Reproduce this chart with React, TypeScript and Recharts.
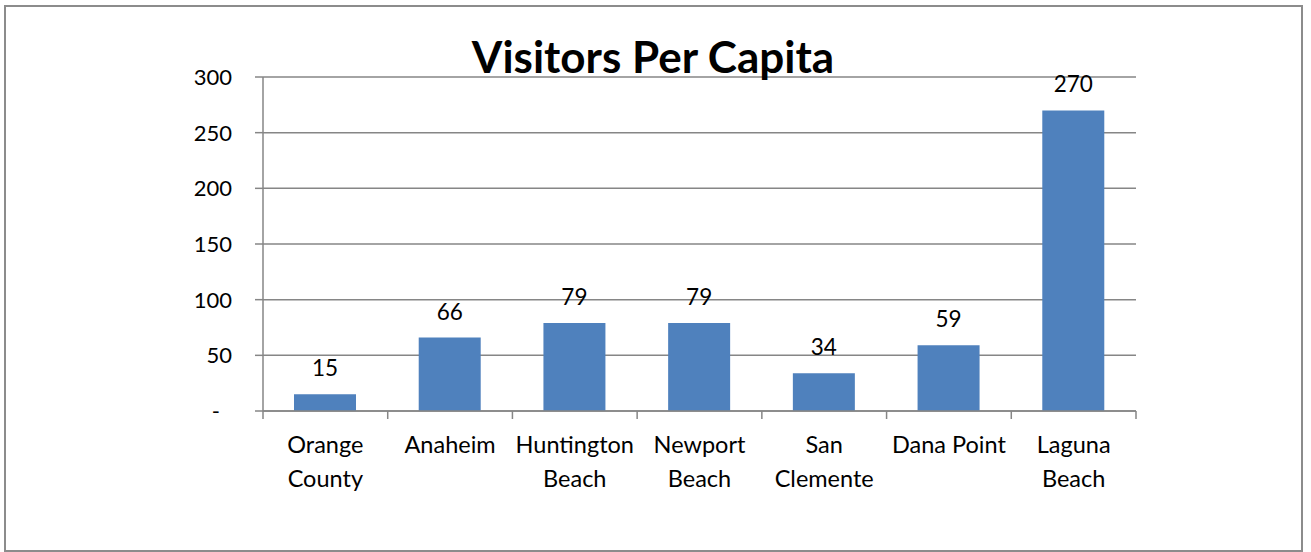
import { BarChart, Bar, XAxis, YAxis, CartesianGrid, LabelList } from "recharts";

const cities = [
  "Orange County",
  "Anaheim",
  "Huntington Beach",
  "Newport Beach",
  "San Clemente",
  "Dana Point",
  "Laguna Beach",
];
// how Excel wrapped each category label
const cityLines = [
  ["Orange", "County"],
  ["Anaheim"],
  ["Huntington", "Beach"],
  ["Newport", "Beach"],
  ["San", "Clemente"],
  ["Dana Point"],
  ["Laguna", "Beach"],
];
const visitorsPerCapita = [15, 66, 79, 79, 34, 59, 270];
const yTicks = [0, 50, 100, 150, 200, 250, 300];

const FONT = "Lato, 'Open Sans', sans-serif";
const GRID = "#868686";

const data = cities.map((c, i) => ({ city: c, visitors: visitorsPerCapita[i] }));

function CityTick(props: any) {
  const { x, payload, index } = props;
  const half = payload?.offset || 62.35;
  const lines = cityLines[index] || [payload.value];
  const axisY = 411;
  return (
    <g>
      <line x1={x - half} x2={x - half} y1={axisY} y2={axisY + 8} stroke={GRID} strokeWidth={1.5} />
      {index === cities.length - 1 && (
        <line x1={x + half} x2={x + half} y1={axisY} y2={axisY + 8} stroke={GRID} strokeWidth={1.5} />
      )}
      {lines.map((l: string, i: number) => (
        <text key={i} x={x} y={axisY + 42 + i * 34} textAnchor="middle" fontSize={23.5} fontFamily={FONT} fill="#000">
          {l}
        </text>
      ))}
    </g>
  );
}

function ValueTick(props: any) {
  const { y, payload } = props;
  const label = payload.value === 0 ? "-" : String(payload.value);
  const right = payload.value === 0 ? 220 : 232;
  return (
    <text x={right} y={y + 8} textAnchor="end" fontSize={22} fontFamily={FONT} fill="#000">
      {label}
    </text>
  );
}

export default function App() {
  return (
    <div style={{ position: "absolute", left: 0, top: 0, width: 1311, height: 552, background: "#fff" }}>
      <div
        style={{
          position: "absolute",
          left: 4,
          top: 5,
          width: 1295,
          height: 543,
          border: "2px solid #8c8c8c",
        }}
      />
      <div style={{ position: "absolute", left: 0, top: 0 }}>
        <BarChart
          width={1311}
          height={552}
          data={data}
          margin={{ top: 77, right: 175, left: 0, bottom: 0 }}
        >
          <CartesianGrid vertical={false} stroke={GRID} strokeWidth={1.5} />
          <XAxis
            dataKey="city"
            type="category"
            height={141}
            interval={0}
            tick={CityTick}
            tickLine={false}
            axisLine={{ stroke: GRID, strokeWidth: 1.5 }}
          />
          <YAxis
            type="number"
            width={263}
            domain={[0, 300]}
            ticks={yTicks}
            tick={ValueTick}
            tickSize={8}
            tickLine={{ stroke: GRID, strokeWidth: 1.5 }}
            axisLine={{ stroke: GRID, strokeWidth: 1.5 }}
          />
          <Bar dataKey="visitors" fill="#4f81bd" barSize={62} isAnimationActive={false}>
            <LabelList dataKey="visitors" position="top" offset={18} fontSize={22.5} fontFamily={FONT} fill="#000" />
          </Bar>
        </BarChart>
      </div>
      <svg width={1311} height={552} style={{ position: "absolute", left: 0, top: 0, pointerEvents: "none" }}>
        <text x={653} y={73} textAnchor="middle" fontFamily={FONT} fontWeight={700} fontSize={44} fill="#000">
          Visitors Per Capita
        </text>
      </svg>
    </div>
  );
}
